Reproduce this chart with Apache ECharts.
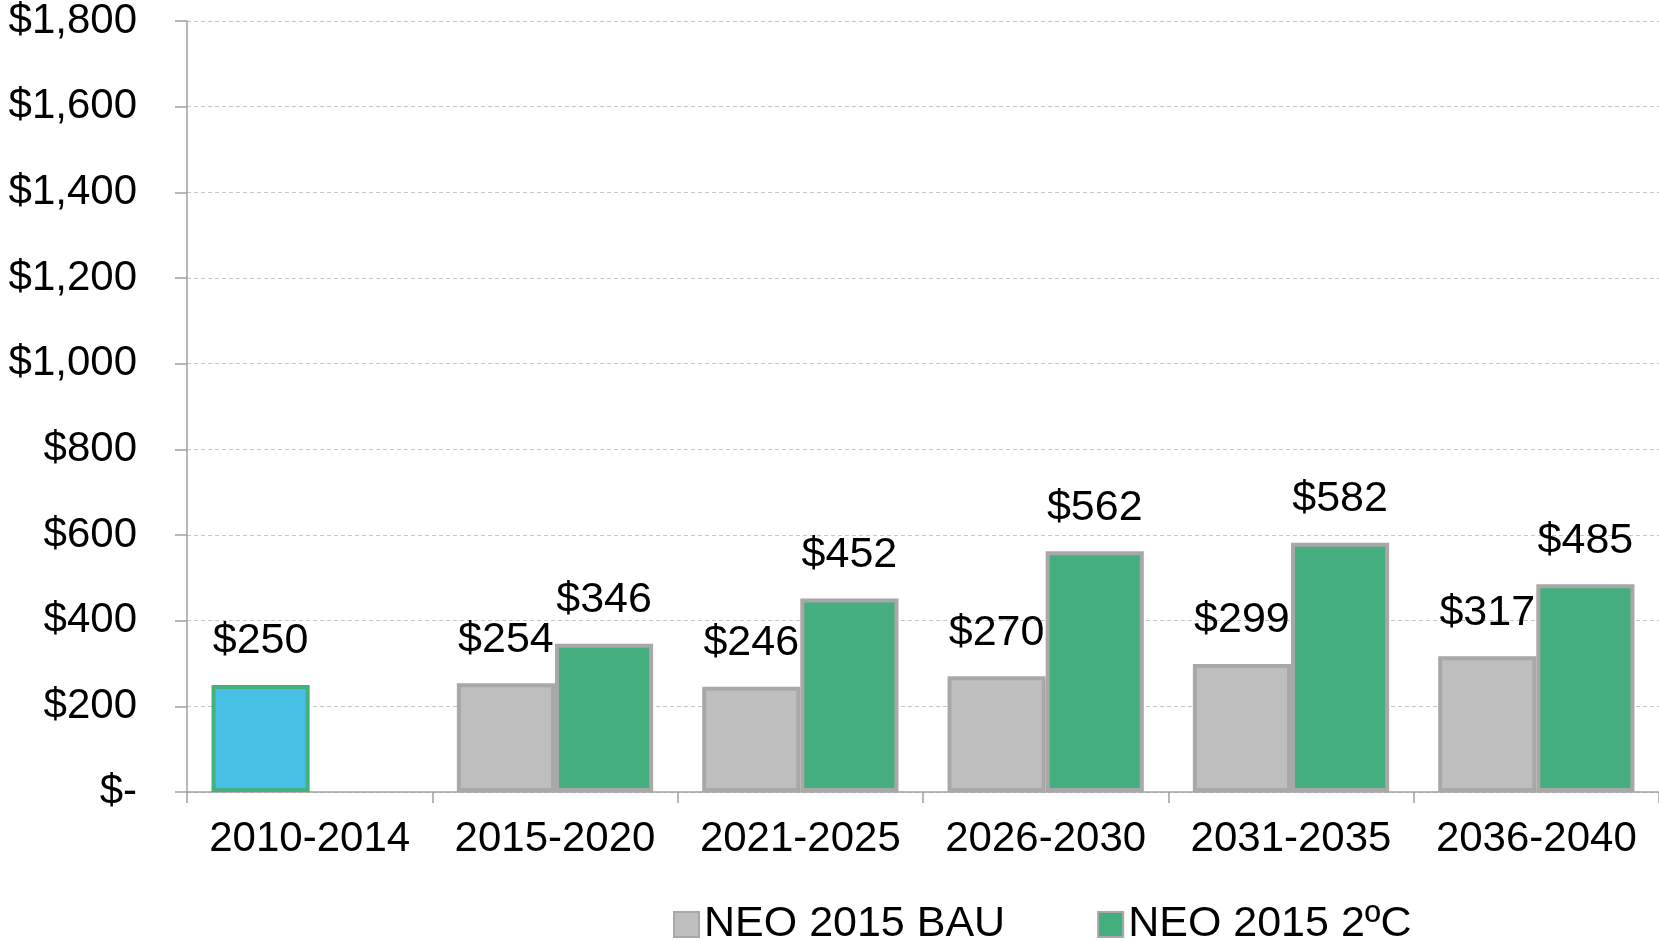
<!DOCTYPE html>
<html>
<head>
<meta charset="utf-8">
<script src="https://cdn.jsdelivr.net/npm/echarts@6/dist/echarts.min.js"></script>
<style>
html,body{margin:0;padding:0;background:#fff;}
#chart{width:1659px;height:941px;}
</style>
</head>
<body>
<div id="chart"></div>
<script>
const categories = ['2010-2014','2015-2020','2021-2025','2026-2030','2031-2035','2036-2040'];
const bauValues = [250, 254, 246, 270, 299, 317];
const twoCValues = [null, 346, 452, 562, 582, 485];
const seriesNames = ['NEO 2015 BAU', 'NEO 2015 2ºC'];
const yTickLabels = ['$-','$200','$400','$600','$800','$1,000','$1,200','$1,400','$1,600','$1,800'];

const FONT = '"Liberation Sans", Arial, sans-serif';
const FS = 42;

const bauData = bauValues.map((v, i) => i === 0
  ? {value: v, itemStyle: {color: '#48c0e6', borderColor: '#45b07f'}}
  : v);

const labelCfg = {
  show: true, position: 'top', distance: 22,
  color: '#000', fontSize: 43, fontFamily: FONT,
  formatter: p => '$' + p.value
};

const chart = echarts.init(document.getElementById('chart'));
chart.setOption({
  animation: false,
  backgroundColor: '#fff',
  grid: {left: 187, right: 0, top: 20, bottom: 149, containLabel: false},
  legend: {
    left: 668, top: 898,
    itemWidth: 25, itemHeight: 25, itemGap: 92,
    icon: 'rect',
    textStyle: {fontSize: 43, fontFamily: FONT, color: '#000', padding: [0,0,0,0]},
    data: seriesNames
  },
  xAxis: {
    type: 'category', data: categories,
    axisLine: {lineStyle: {color: '#a0a0a0', width: 1.5}},
    axisTick: {show: true, interval: 0, alignWithLabel: false, length: 11, lineStyle: {color: '#a0a0a0', width: 1.5}},
    axisLabel: {color: '#000', fontSize: FS, fontFamily: FONT, margin: 26, interval: 0}
  },
  yAxis: {
    type: 'value', min: 0, max: 1800, interval: 200,
    axisLine: {show: true, lineStyle: {color: '#a0a0a0', width: 1.5}},
    axisTick: {show: true, length: 12, lineStyle: {color: '#a0a0a0', width: 1.5}},
    splitLine: {lineStyle: {color: '#c4c4c4', type: [4, 3], width: 1}},
    axisLabel: {color: '#000', fontSize: FS, fontFamily: FONT, margin: 50,
      formatter: v => yTickLabels[Math.round(v / 200)]}
  },
  series: [
    {
      name: seriesNames[0], type: 'bar', data: bauData,
      barGap: '0%', barCategoryGap: '20%',
      itemStyle: {color: '#bfbebf', borderColor: '#a8a8a8', borderWidth: 4},
      label: labelCfg
    },
    {
      name: seriesNames[1], type: 'bar', data: twoCValues,
      barGap: '0%', barCategoryGap: '20%',
      itemStyle: {color: '#44ae7e', borderColor: '#a8a8a8', borderWidth: 4},
      label: labelCfg
    }
  ]
});
</script>
</body>
</html>
